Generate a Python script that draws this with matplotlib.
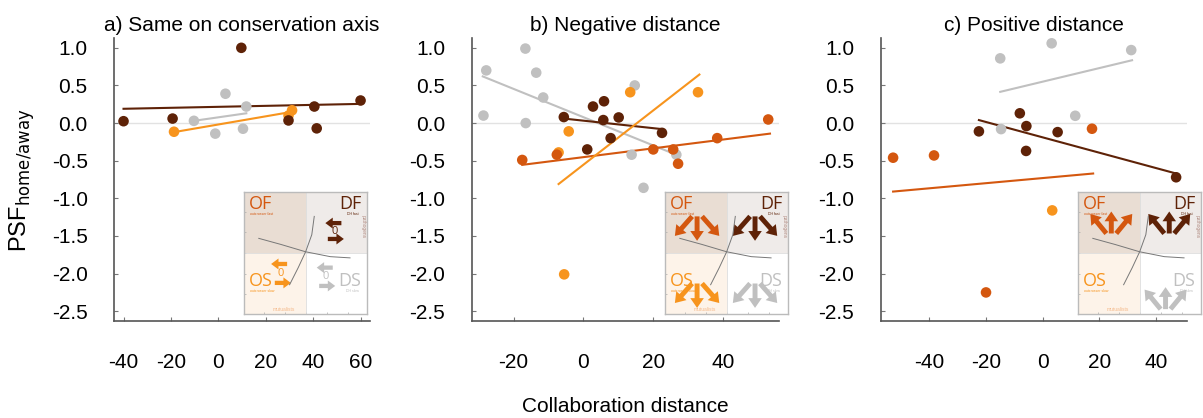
import matplotlib
matplotlib.use("Agg")
import matplotlib.pyplot as plt

plt.rcParams['font.family'] = ['Liberation Sans', 'DejaVu Sans']

# colours for the four groups
c_df = '#5e2207'   # dark brown
c_of = '#d4570f'   # orange-brown
c_os = '#f7941d'   # light orange
c_ds = '#c0c0c0'   # gray

titles = ['a) Same on conservation axis', 'b) Negative distance', 'c) Positive distance']
xticks = [[-40, -20, 0, 20, 40, 60], [-20, 0, 20, 40], [-40, -20, 0, 20, 40]]
xlims = [(-44, 64), (-32, 56), (-57, 51)]
yticks = [1.0, 0.5, 0.0, -0.5, -1.0, -1.5, -2.0, -2.5]
ytick_labels = ['1.0', '0.5', '0.0', '-0.5', '-1.0', '-1.5', '-2.0', '-2.5']

# ---- panel a ----
a_df_x = [-40, -19.3, 9.7, 29.6, 40.5, 41.5, 60]
a_df_y = [0.025, 0.06, 1.0, 0.035, 0.22, -0.07, 0.3]
a_ds_x = [-10.3, 3.0, -1.3, 10.4, 11.8]
a_ds_y = [0.03, 0.39, -0.14, -0.075, 0.22]
a_os_x = [-18.7, 29.6, 31.1]
a_os_y = [-0.115, 0.10, 0.17]
a_fit_df = ([-40, 60], [0.19, 0.255])
a_fit_ds = ([-10.3, 11.8], [0.03, 0.13])
a_fit_os = ([-18.7, 31.1], [-0.12, 0.15])

# ---- panel b ----
b_ds_x = [-27.8, -28.6, -16.6, -16.5, -13.5, -11.5, 14.7, 13.8, 17.2, 26.6]
b_ds_y = [0.70, 0.10, 0.99, 0.0, 0.67, 0.34, 0.50, -0.42, -0.86, -0.42]
b_df_x = [-5.6, 2.75, 5.9, 5.7, 10.1, 7.8, 1.1, 22.5]
b_df_y = [0.08, 0.22, 0.29, 0.04, 0.075, -0.20, -0.35, -0.13]
b_of_x = [-17.5, -7.6, 20.0, 25.7, 27.1, 38.3, 52.9]
b_of_y = [-0.49, -0.42, -0.35, -0.35, -0.54, -0.20, 0.048]
b_os_x = [-4.2, -7.1, 13.4, 32.8, -5.5]
b_os_y = [-0.11, -0.39, 0.41, 0.41, -2.01]
b_fit_ds = ([-28.8, 27.6], [0.62, -0.44])
b_fit_df = ([-5.6, 22.5], [0.06, -0.08])
b_fit_of = ([-17.5, 53.4], [-0.555, -0.14])
b_fit_os = ([-7.1, 33.2], [-0.81, 0.645])

# ---- panel c ----
c_ds_x = [-14.9, 3.2, 31.2, 11.5, -14.6]
c_ds_y = [0.86, 1.06, 0.97, 0.097, -0.08]
c_df_x = [-22.4, -8.0, -5.7, -5.8, 5.3, 47.0]
c_df_y = [-0.11, 0.13, -0.04, -0.37, -0.12, -0.72]
c_of_x = [-52.6, -38.2, -19.9, 17.4]
c_of_y = [-0.46, -0.43, -2.25, -0.075]
c_os_x = [3.4]
c_os_y = [-1.16]
c_fit_ds = ([-14.9, 31.5], [0.415, 0.835])
c_fit_df = ([-22.4, 47.0], [0.04, -0.67])
c_fit_of = ([-52.6, 17.8], [-0.91, -0.67])

panels = [
    {'points': [(a_ds_x, a_ds_y, c_ds), (a_os_x, a_os_y, c_os), (a_df_x, a_df_y, c_df)],
     'fits': [(a_fit_df, c_df), (a_fit_ds, c_ds), (a_fit_os, c_os)]},
    {'points': [(b_ds_x, b_ds_y, c_ds), (b_os_x, b_os_y, c_os), (b_of_x, b_of_y, c_of), (b_df_x, b_df_y, c_df)],
     'fits': [(b_fit_ds, c_ds), (b_fit_df, c_df), (b_fit_of, c_of), (b_fit_os, c_os)]},
    {'points': [(c_ds_x, c_ds_y, c_ds), (c_os_x, c_os_y, c_os), (c_of_x, c_of_y, c_of), (c_df_x, c_df_y, c_df)],
     'fits': [(c_fit_ds, c_ds), (c_fit_df, c_df), (c_fit_of, c_of)]},
]

# inset arrows: (colour, [(x0, y0, x1, y1), ...]) in inset units
arrows_a = [(c_df, [(0.79, 0.745, 0.66, 0.745), (0.68, 0.615, 0.81, 0.615)]),
            (c_os, [(0.35, 0.41, 0.22, 0.41), (0.25, 0.255, 0.38, 0.255)]),
            (c_ds, [(0.72, 0.38, 0.59, 0.38), (0.61, 0.23, 0.74, 0.23)])]
zeros_a = [(c_df, 0.735, 0.68), (c_os, 0.30, 0.33), (c_ds, 0.665, 0.305)]

down = [(-0.04, 0.0, -0.18, -0.16), (0.0, 0.0, 0.0, -0.20), (0.04, 0.0, 0.18, -0.16)]
up = [(-0.04, 0.0, -0.17, 0.16), (0.0, 0.0, 0.0, 0.18), (0.04, 0.0, 0.17, 0.16)]
arrows_b = [(c_of, 0.26, 0.80, down), (c_df, 0.73, 0.80, down),
            (c_os, 0.26, 0.25, down), (c_ds, 0.73, 0.25, down)]
arrows_c = [(c_of, 0.27, 0.66, up), (c_df, 0.74, 0.66, up), (c_ds, 0.71, 0.04, up)]

fig = plt.figure(figsize=(12.03, 4.18), dpi=100)

ax_lefts = [0.0948, 0.392, 0.732]
ax_widths = [0.2128, 0.2556, 0.2551]
ax_bottom, ax_height = 0.232, 0.677
inset_lefts = [0.2028, 0.5528, 0.8961]


def draw_inset(ax, kind):
    ax.set_xlim(0, 1)
    ax.set_ylim(0, 1)
    ax.axvspan(0, 0.5, ymin=0.5, ymax=1, color='#e9ddd3', lw=0)
    ax.axvspan(0.5, 1, ymin=0.5, ymax=1, color='#efebe9', lw=0)
    ax.axvspan(0, 0.5, ymin=0, ymax=0.5, color='#fdf3e9', lw=0)
    ax.axvspan(0.5, 1, ymin=0, ymax=0.5, color='white', lw=0)
    ax.axhline(0.5, color='#dddddd', lw=0.6)
    ax.axvline(0.5, color='#dddddd', lw=0.6)
    for s in ax.spines.values():
        s.set_color('#bbbbbb')
        s.set_linewidth(1.0)
    ax.set_xticks([0.16, 0.33, 0.5, 0.67, 0.84])
    ax.set_yticks([0.16, 0.33, 0.5, 0.67, 0.84])
    ax.set_xticklabels([])
    ax.set_yticklabels([])
    ax.tick_params(length=1.5, width=0.5, color='#aaaaaa', direction='in')
    # schematic axes
    ax.plot([0.12, 0.3, 0.5, 0.7, 0.86], [0.62, 0.57, 0.51, 0.47, 0.46], color='#777777', lw=0.7)
    ax.plot([0.37, 0.44, 0.5, 0.55, 0.57], [0.24, 0.38, 0.51, 0.65, 0.80], color='#777777', lw=0.7)
    ax.text(0.04, 0.905, 'OF', color=c_of, fontsize=13, ha='left', va='center', family='Open Sans')
    ax.text(0.95, 0.905, 'DF', color=c_df, fontsize=13, ha='right', va='center', family='Open Sans')
    ax.text(0.04, 0.27, 'OS', color=c_os, fontsize=13, ha='left', va='center', family='Open Sans')
    ax.text(0.95, 0.27, 'DS', color=c_ds, fontsize=13, ha='right', va='center', family='Open Sans')
    ax.text(0.05, 0.82, 'outcrosser fast', color=c_of, fontsize=2.5, ha='left', va='center')
    ax.text(0.93, 0.82, 'DH fast', color=c_df, fontsize=2.5, ha='right', va='center')
    ax.text(0.05, 0.19, 'outcrosser slow', color=c_os, fontsize=2.5, ha='left', va='center')
    ax.text(0.93, 0.19, 'DH slow', color=c_ds, fontsize=2.5, ha='right', va='center')
    ax.text(0.97, 0.72, 'pathogens', color='#b08a80', fontsize=3.5, rotation=270, ha='center', va='center')
    ax.text(0.32, 0.04, 'mutualists', color='#f4b98a', fontsize=3.5, ha='center', va='center')
    if kind == 0:
        for col, segs in arrows_a:
            for x0, y0, x1, y1 in segs:
                ax.arrow(x0, y0, x1 - x0, y1 - y0, width=0.035, head_width=0.09,
                         head_length=0.06, length_includes_head=True, color=col, lw=0)
        for col, x, y in zeros_a:
            ax.text(x, y, '0', color=col, fontsize=8, ha='center', va='center', family='Open Sans')
    else:
        groups = arrows_b if kind == 1 else arrows_c
        for col, bx, by, dirs in groups:
            for dx0, dy0, dx1, dy1 in dirs:
                ax.arrow(bx + dx0, by + dy0, dx1 - dx0, dy1 - dy0, width=0.04, head_width=0.11,
                         head_length=0.08, length_includes_head=True, color=col, lw=0)


for i, p in enumerate(panels):
    ax = fig.add_axes([ax_lefts[i], ax_bottom, ax_widths[i], ax_height])
    ax.axhline(0, color='#e2e2e2', lw=1.0, zorder=0)
    for (fx, fy), col in p['fits']:
        ax.plot(fx, fy, color=col, lw=1.5, zorder=2)
    for x, y, col in p['points']:
        ax.scatter(x, y, s=58, color=col, edgecolors='none', zorder=3)
    ax.set_xlim(*xlims[i])
    ax.set_ylim(-2.63, 1.13)
    ax.set_xticks(xticks[i])
    ax.set_xticklabels([str(t) for t in xticks[i]])
    ax.set_yticks(yticks)
    ax.set_yticklabels(ytick_labels)
    for side in ['top', 'right']:
        ax.spines[side].set_visible(False)
    for side in ['left', 'bottom']:
        ax.spines[side].set_color('#555555')
        ax.spines[side].set_linewidth(1.2)
    ax.tick_params(axis='x', length=3, width=0.8, color='#777777', direction='in', pad=23, labelsize=15)
    ax.tick_params(axis='y', length=3, width=0.8, color='#777777', direction='in', pad=19, labelsize=15)
    fig.text(ax_lefts[i] + ax_widths[i] / 2, 0.94, titles[i], ha='center', va='center', fontsize=15)
    ins = fig.add_axes([inset_lefts[i], 0.2488, 0.1025, 0.2919])
    draw_inset(ins, i)

fig.text(0.0185, 0.57, r'PSF$_{\mathrm{home/away}}$', rotation=90, ha='center', va='center', fontsize=17)
fig.text(0.5195, 0.027, 'Collaboration distance', ha='center', va='center', fontsize=15)

fig.savefig('out.png', dpi=100)
